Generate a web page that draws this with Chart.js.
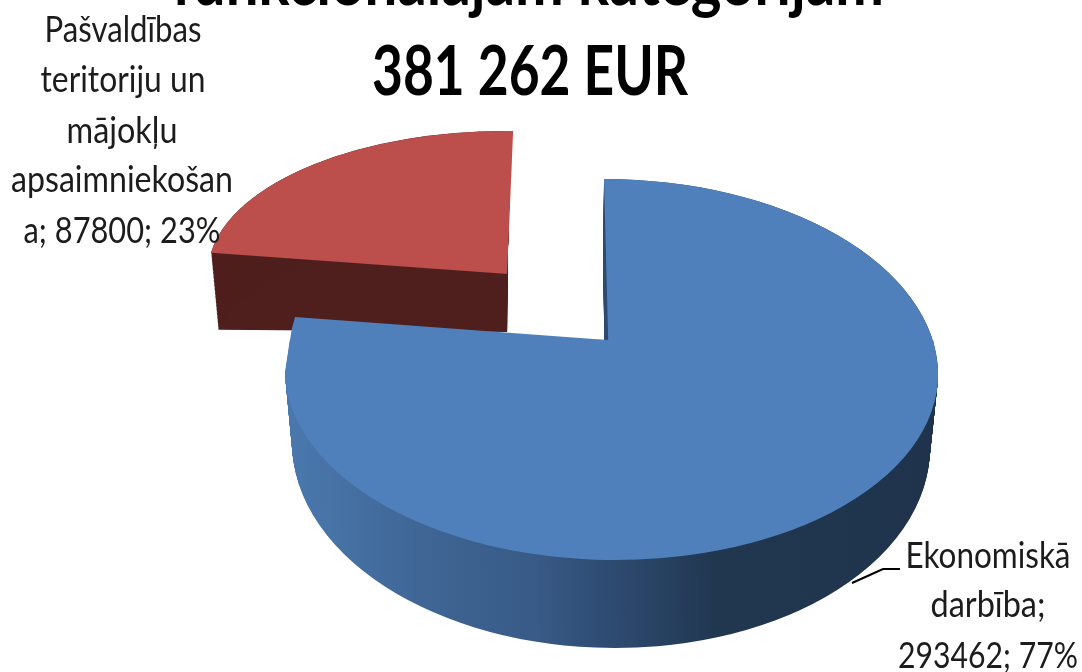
<!DOCTYPE html>
<html>
<head>
<meta charset="utf-8">
<style>
  html, body { margin: 0; padding: 0; background: #fff; overflow: hidden; }
  canvas { display: block; }
</style>
<script src="https://cdn.jsdelivr.net/npm/chart.js@4"></script>
</head>
<body>
<canvas id="pieChart" width="1082" height="672"></canvas>
<script>
// Data
const categories = ["Ekonomiskā darbība", "Pašvaldības teritoriju un mājokļu apsaimniekošana"];
const values = [293462, 87800];
const topColors = ["#4f80bb", "#bc4f4c"];
const titleLines = ["funkcionālajām kategorijām", "381 262 EUR"];
const labelLines = [
    ["Ekonomiskā", "darbība;", "293462; 77%"],
    ["Pašvaldības", "teritoriju un", "mājokļu", "apsaimniekošan", "a; 87800; 23%"]
];

// Text placement: [center x, baseline y, fitted width] per line
const titlePlaces = [[528, 5, 712], [530, 95, 316]];
const labelPlaces = [
    [[988, 568, 165], [988, 617, 115], [988, 668, 180]],
    [[123, 42, 157], [123, 92, 165], [122, 143, 111], [122, 192, 222], [122, 243, 197]]
];
const leader = [[852, 583], [883, 569], [900, 569]];

// How the flat arcs are laid onto the tilted 3D view. Each patch is one part of a
// slice (xs/ys pick the quadrant, 0 = both sides), swept between two placements.
const wallGradient = [[0, "#4a78ad"], [0.2, "#3f6695"], [0.38, "#385a86"], [0.5, "#2d4a70"], [0.66, "#213750"], [1, "#1f334c"]];
const redWall = "#4f1f1d";

const redLayers = [
    { slice: 1, xs: -1, ys: -1, fill: redWall,
      from: { px: 507, py: 274, rx: 299, ry: 143, k: -6, b: 3.6 },
      to: { px: 508, py: 332, rx: 292, ry: 100, k: 0, b: -10.3 } },
    { slice: 1, xs: -1, ys: -1, fill: "top",
      from: { px: 508, py: 274, rx: 300, ry: 143, k: -6, b: 3.6 } }
];
const blueLayers = [
    { slice: 0, xs: 1, ys: -1, fill: "wall",
      from: { px: 609, py: 372, rx: 329, ry: 193, k: 5 },
      to: { px: 606, py: 447, rx: 322, ry: 190, k: 3 } },
    { slice: 0, xs: 0, ys: 1, fill: "wall",
      from: { px: 611.5, py: 372, rx: 326.5, ry: 188, k: 4 },
      to: { px: 611, py: 445, rx: 319, ry: 203, k: 4 } },
    { slice: 0, xs: -1, ys: -1, fill: "top",
      from: { px: 607, py: 340, rx: 317, ry: 187, k: -21 } },
    { slice: 0, xs: 0, ys: 1, fill: "top",
      from: { px: 611.5, py: 340, rx: 321.7, ry: 188, k: 4 },
      to: { px: 611.5, py: 372, rx: 326.5, ry: 188, k: 4 } },
    { slice: 0, xs: 1, ys: -1, fill: "top",
      from: { px: 609, py: 372, rx: 329, ry: 193, k: 5 } }
];

function lerpPlace(a, b, t) {
    const get = (o, key) => o[key] || 0;
    const out = {};
    for (const key of ["px", "py", "rx", "ry", "k", "b"]) {
        out[key] = get(a, key) + (get(b, key) - get(a, key)) * t;
    }
    return out;
}

function drawPatch(ctx, arc, place, layer, fillStyle) {
    const R = arc.outerRadius;
    const a = place.rx / R, b = place.b / R, c = place.k / R, d = place.ry / R;
    ctx.save();
    ctx.transform(a, b, c, d,
        place.px - a * arc.x - c * arc.y,
        place.py - b * arc.x - d * arc.y);
    // clip in the arc's own coordinates so the pieces meet along the axes
    const x0 = layer.xs > 0 ? arc.x - 1 : arc.x - R - 2;
    const x1 = layer.xs < 0 ? arc.x - 1 : arc.x + R + 2;
    const y0 = layer.ys > 0 ? arc.y - 0.5 : arc.y - R - 2;
    const y1 = layer.ys < 0 ? arc.y + 0.5 : arc.y + R + 2;
    ctx.beginPath();
    ctx.rect(x0, y0, x1 - x0, y1 - y0);
    ctx.clip();
    const shadow = Object.create(arc);
    const options = Object.create(arc.options);
    Object.defineProperty(options, "backgroundColor", { value: fillStyle });
    Object.defineProperty(options, "borderWidth", { value: 0 });
    shadow.options = options;
    shadow.draw(ctx);
    ctx.restore();
}

function drawLayer(ctx, arc, layer) {
    let fillStyle = layer.fill;
    if (layer.fill === "top") {
        fillStyle = topColors[layer.slice];
    } else if (layer.fill === "wall") {
        fillStyle = ctx.createLinearGradient(arc.x - arc.outerRadius, 0, arc.x + arc.outerRadius, 0);
        wallGradient.forEach(s => fillStyle.addColorStop(s[0], s[1]));
    }
    const to = layer.to || layer.from;
    const steps = Math.max(1, Math.ceil(Math.abs(to.py - layer.from.py)));
    for (let i = layer.to ? 0 : steps; i <= steps; i++) {
        drawPatch(ctx, arc, lerpPlace(layer.from, to, i / steps), layer, fillStyle);
    }
}

const view3d = {
    id: "view3d",
    beforeDatasetsDraw(chart) {
        const arcs = chart.getDatasetMeta(0).data;
        const ctx = chart.ctx;
        redLayers.concat(blueLayers).forEach(layer => drawLayer(ctx, arcs[layer.slice], layer));
        return false;
    },
    afterDraw(chart) {
        const ctx = chart.ctx;
        ctx.save();
        ctx.textAlign = "center";
        ctx.textBaseline = "alphabetic";
        ctx.fillStyle = "#000";
        ctx.font = "bold 68px Lato, 'Open Sans', sans-serif";
        titleLines.forEach((line, i) => {
            const p = titlePlaces[i];
            ctx.fillText(line, p[0], p[1], p[2]);
        });
        ctx.fillStyle = "#1c1c1c";
        ctx.font = "36px Lato, 'Open Sans', sans-serif";
        labelLines.forEach((lines, s) => lines.forEach((line, i) => {
            const p = labelPlaces[s][i];
            ctx.fillText(line, p[0], p[1], p[2]);
        }));
        ctx.strokeStyle = "#000";
        ctx.lineWidth = 2;
        ctx.beginPath();
        leader.forEach((p, i) => i ? ctx.lineTo(p[0], p[1]) : ctx.moveTo(p[0], p[1]));
        ctx.stroke();
        ctx.restore();
    }
};

new Chart(document.getElementById("pieChart").getContext("2d"), {
    type: "pie",
    data: {
        labels: categories,
        datasets: [{
            data: values,
            backgroundColor: topColors,
            borderWidth: 0
        }]
    },
    options: {
        responsive: false,
        animation: false,
        events: [],
        plugins: {
            legend: { display: false },
            tooltip: { enabled: false }
        }
    },
    plugins: [view3d]
});
</script>
</body>
</html>
